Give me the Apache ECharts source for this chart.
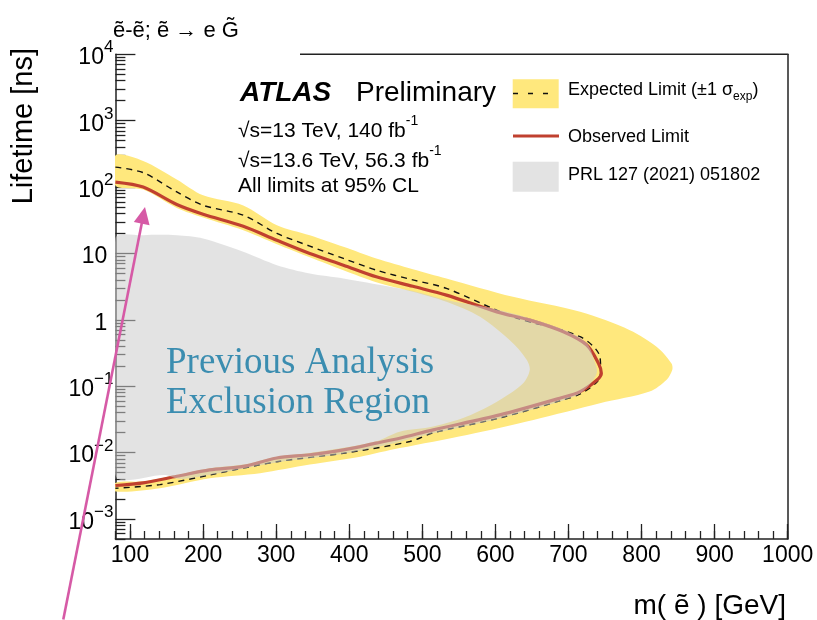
<!DOCTYPE html>
<html>
<head>
<meta charset="utf-8">
<script src="https://cdn.jsdelivr.net/npm/echarts@6/dist/echarts.min.js"></script>
<style>
html, body { margin: 0; padding: 0; background: #fff; }
#chart { width: 817px; height: 620px; }
</style>
</head>
<body>
<div id="chart"></div>
<script>
// Selectron mass [GeV] vs lifetime [ns]; every contour is a closed path:
// upper branch left -> right, then lower branch right -> left.

// Expected limit +1 sigma contour (outer edge of the yellow band)
const bandOuter = [
  [80, 300], [118, 247], [164, 130], [200, 75], [255, 53], [301, 26.7], [346, 18.8],
  [392, 12.6], [437, 8.4], [487, 5.8], [533, 4.2], [624, 2.22], [716, 1.32], [784, 0.70],
  [821, 0.39], [841, 0.22], [842, 0.176], [834, 0.124], [811, 0.083], [743, 0.0555],
  [652, 0.0311], [561, 0.0185], [469, 0.0117], [415, 0.0087], [346, 0.0066], [278, 0.0049],
  [209, 0.0041], [141, 0.0029], [80, 0.0026]
];

// Expected limit -1 sigma contour (inner edge of the yellow band)
const bandInner = [
  [80, 106], [118, 91.7], [164, 48.5], [200, 34.8], [255, 22.4], [301, 13.8], [346, 8.8],
  [392, 5.6], [437, 3.7], [487, 2.65], [533, 1.87], [579, 1.11], [624, 0.444], [643, 0.248],
  [647, 0.176], [638, 0.111], [606, 0.0622], [561, 0.0349], [515, 0.0247], [469, 0.0207],
  [438, 0.0150], [392, 0.0118], [346, 0.0099], [301, 0.0087], [255, 0.0066], [209, 0.0058],
  [164, 0.0046], [118, 0.0037], [80, 0.0035]
];

// Expected limit (dashed)
const expectedLimit = [
  [80, 200], [118, 165], [164, 84.4], [200, 53.2], [255, 37.7], [301, 20.0], [346, 12.9],
  [392, 8.41], [437, 5.61], [487, 4.0], [533, 2.98], [624, 1.11], [716, 0.557], [743, 0.279],
  [744, 0.164], [739, 0.116], [716, 0.0765], [688, 0.0601], [606, 0.0333], [515, 0.0199],
  [483, 0.0147], [392, 0.0098], [301, 0.0073], [209, 0.0046], [141, 0.0033], [80, 0.0029]
];

// Observed limit (solid red)
const observedLimit = [
  [80, 119], [118, 100], [164, 54.6], [200, 39.0], [255, 25.7], [301, 15.8], [346, 10.0],
  [392, 6.67], [437, 4.45], [487, 3.2], [533, 2.36], [602, 1.32], [647, 0.99], [693, 0.662],
  [725, 0.418], [741, 0.222], [745, 0.157], [739, 0.124], [716, 0.083], [688, 0.066],
  [606, 0.037], [515, 0.022], [469, 0.0165], [437, 0.0139], [392, 0.0110], [346, 0.0093],
  [301, 0.0083], [255, 0.0062], [209, 0.0055], [164, 0.0044], [118, 0.0035], [80, 0.0032]
];

// Previously excluded region, PRL 127 (2021) 051802
const prlRegion = [
  [80, 16.8], [118, 18.8], [164, 18.8], [200, 16.8], [255, 10.6], [301, 6.67], [346, 5.0],
  [392, 4.21], [456, 3.15], [487, 2.71], [533, 1.99], [579, 1.61], [606, 1.40], [647, 1.06],
  [693, 0.714], [725, 0.448], [736, 0.232], [739, 0.164], [733, 0.120], [716, 0.078],
  [688, 0.059], [606, 0.0328], [515, 0.0195], [469, 0.0145], [392, 0.0096], [301, 0.0071],
  [209, 0.0046], [168, 0.0040], [148, 0.0046], [80, 0.0046]
];

// Annotation arrow: tail (below the frame) and head, in mass / lifetime units
const arrowTail = [8.7, 3.06e-5];
const arrowHead = [120.5, 50.2];

// Axis ticks
const xMajorTicks = [100, 200, 300, 400, 500, 600, 700, 800, 900, 1000];
const xMinorTicks = [];
for (let m = 80; m <= 1000; m += 20) xMinorTicks.push(m);
const yMajorTicks = [1e-3, 1e-2, 1e-1, 1, 10, 100, 1e3, 1e4];
const yMinorTicks = [];
for (let k = -4; k <= 3; k++) {
  for (let j = 2; j <= 9; j++) {
    const v = j * Math.pow(10, k);
    if (v >= 5e-4 && v <= 1e4) yMinorTicks.push(v);
  }
}

const FONT = 'Liberation Sans, Arial, Helvetica, sans-serif';
const YELLOW = '#ffe87d';
const RED = '#c0402f';
const PRL_FILL = 'rgba(203,203,203,0.54)';
const PINK = '#d65aa6';
const AXIS = '#222';

const chart = echarts.init(document.getElementById('chart'), null, { renderer: 'canvas' });

function logLabel(v) {
  const k = Math.round(Math.log10(v));
  if (k === 0) return '{p|1}';
  if (k === 1) return '{p|10}';
  return '{b|10}{sup|' + (k < 0 ? '\u2212' : '') + Math.abs(k) + '}';
}

function polygonSeries(name, points, fill, z) {
  return {
    name: name,
    type: 'custom',
    coordinateSystem: 'cartesian2d',
    xAxisIndex: 0, yAxisIndex: 0,
    clip: true,
    z: z,
    silent: true,
    data: points,
    renderItem: function (params, api) {
      if (params.dataIndex !== 0) return null;
      const pts = points.map(function (p) { return api.coord(p); });
      return { type: 'polygon', shape: { points: pts, smooth: 0.3 }, style: { fill: fill } };
    }
  };
}

const grid = { left: 115.4, right: 29.3, top: 54.3, bottom: 81 };
const supRich = {
  n: { fontSize: 21, fontFamily: FONT, fill: '#000', lineHeight: 28, verticalAlign: 'bottom' },
  sup: { fontSize: 14, fontFamily: FONT, fill: '#000', lineHeight: 14, verticalAlign: 'top' }
};

const option = {
  animation: false,
  backgroundColor: '#fff',
  grid: Object.assign({ containLabel: false, outerBoundsMode: 'none' }, grid),
  xAxis: [
    {
      type: 'value', min: 80, max: 1000, position: 'bottom',
      axisLine: { show: true, onZero: false, lineStyle: { color: AXIS, width: 1.5 } },
      axisTick: { show: true, inside: true, length: 8, customValues: xMinorTicks, lineStyle: { color: AXIS, width: 1.3 } },
      axisLabel: { show: true, customValues: xMajorTicks, margin: 5, fontSize: 23, color: '#000', fontFamily: FONT,
                   formatter: function (v) { return String(v); } },
      splitLine: { show: false }
    },
    {
      type: 'value', min: 80, max: 1000, position: 'bottom',
      axisLine: { show: false, onZero: false },
      axisTick: { show: true, inside: true, length: 15, customValues: xMajorTicks, lineStyle: { color: AXIS, width: 1.3 } },
      axisLabel: { show: false },
      splitLine: { show: false }
    }
  ],
  yAxis: [
    {
      type: 'log', logBase: 10, min: 5e-4, max: 1e4, position: 'left',
      axisLine: { show: true, onZero: false, lineStyle: { color: AXIS, width: 1.5 } },
      axisTick: { show: true, inside: true, length: 20, customValues: yMajorTicks, lineStyle: { color: AXIS, width: 1.3 } },
      axisLabel: {
        show: true, customValues: yMajorTicks, margin: 2, formatter: logLabel,
        rich: {
          b: { fontSize: 23, fontFamily: FONT, color: '#000', lineHeight: 30, verticalAlign: 'bottom' },
          p: { fontSize: 23, fontFamily: FONT, color: '#000', lineHeight: 30, verticalAlign: 'bottom', padding: [0, 6, 0, 0] },
          sup: { fontSize: 17, fontFamily: FONT, color: '#000', lineHeight: 14, verticalAlign: 'top' }
        }
      },
      splitLine: { show: false }
    },
    {
      type: 'log', logBase: 10, min: 5e-4, max: 1e4, position: 'left',
      axisLine: { show: false, onZero: false },
      axisTick: { show: true, inside: true, length: 10, customValues: yMinorTicks, lineStyle: { color: AXIS, width: 1.3 } },
      axisLabel: { show: false },
      splitLine: { show: false }
    },
    {
      type: 'log', logBase: 10, min: 5e-4, max: 1e4, position: 'right',
      axisLine: { show: true, onZero: false, lineStyle: { color: AXIS, width: 1.5 } },
      axisTick: { show: false },
      axisLabel: { show: false },
      splitLine: { show: false }
    }
  ],
  series: [
    polygonSeries('Expected Limit band', bandOuter.concat(bandInner.slice().reverse()), YELLOW, 1),
    {
      name: 'Expected Limit',
      type: 'line', xAxisIndex: 0, yAxisIndex: 0, z: 2, silent: true,
      data: expectedLimit, showSymbol: false, smooth: 0.3,
      lineStyle: { color: '#111', width: 1.4, type: [6, 5] }
    },
    {
      name: 'Observed Limit',
      type: 'line', xAxisIndex: 0, yAxisIndex: 0, z: 3, silent: true,
      data: observedLimit, showSymbol: false, smooth: 0.3,
      lineStyle: { color: RED, width: 3.2 }
    },
    polygonSeries('PRL 127 (2021) 051802', prlRegion, PRL_FILL, 4),
    {
      name: 'arrow',
      type: 'custom', coordinateSystem: 'cartesian2d', xAxisIndex: 0, yAxisIndex: 0,
      clip: false, z: 6, silent: true,
      encode: { x: [0, 2], y: [1, 3] },
      data: [[arrowTail[0], arrowTail[1], arrowHead[0], arrowHead[1]]],
      renderItem: function (params, api) {
        const a = api.coord([api.value(0), api.value(1)]);
        const b = api.coord([api.value(2), api.value(3)]);
        const dx = b[0] - a[0], dy = b[1] - a[1];
        const len = Math.sqrt(dx * dx + dy * dy);
        const ux = dx / len, uy = dy / len;
        const hl = 17, hw = 8;
        const base = [b[0] - ux * hl, b[1] - uy * hl];
        return {
          type: 'group',
          children: [
            { type: 'line', shape: { x1: a[0], y1: a[1], x2: base[0] + ux * 2, y2: base[1] + uy * 2 },
              style: { stroke: PINK, lineWidth: 2.6 } },
            { type: 'polygon',
              shape: { points: [b, [base[0] - uy * hw, base[1] + ux * hw], [base[0] + uy * hw, base[1] - ux * hw]] },
              style: { fill: PINK } }
          ]
        };
      }
    }
  ],
  graphic: [
    // top frame segment
    { type: 'line', z: 10, shape: { x1: 300, y1: 54.3, x2: 787.7, y2: 54.3 }, style: { stroke: AXIS, lineWidth: 1.5 } },
    // process label
    { type: 'text', z: 10, x: 113, y: 31, style: { text: '\u1EBD-\u1EBD; \u1EBD \u2192 e G\u0303', fontSize: 22, fontFamily: FONT, fill: '#000', verticalAlign: 'middle' } },
    // axis titles
    { type: 'text', z: 10, x: 24, y: 48, rotation: Math.PI / 2,
      style: { text: 'Lifetime [ns]', fontSize: 29, fontFamily: FONT, fill: '#000', align: 'right', verticalAlign: 'middle' } },
    { type: 'text', z: 10, x: 786, y: 606,
      style: { text: 'm( \u1EBD ) [GeV]', fontSize: 28, fontFamily: FONT, fill: '#000', align: 'right', verticalAlign: 'middle' } },
    // ATLAS label block
    { type: 'text', z: 10, x: 240, y: 93,
      style: { text: 'ATLAS', fontSize: 28, fontWeight: 'bold', fontStyle: 'italic', fontFamily: FONT, fill: '#000', verticalAlign: 'middle' } },
    { type: 'text', z: 10, x: 356, y: 93,
      style: { text: 'Preliminary', fontSize: 28, fontFamily: FONT, fill: '#000', verticalAlign: 'middle' } },
    { type: 'text', z: 10, x: 238, y: 128,
      style: { text: '{n|\u221As=13 TeV, 140 fb}{sup|-1}', verticalAlign: 'middle', rich: supRich } },
    { type: 'text', z: 10, x: 238, y: 158,
      style: { text: '{n|\u221As=13.6 TeV, 56.3 fb}{sup|-1}', verticalAlign: 'middle', rich: supRich } },
    { type: 'text', z: 10, x: 238, y: 186,
      style: { text: 'All limits at 95% CL', fontSize: 21, fontFamily: FONT, fill: '#000', verticalAlign: 'middle' } },
    // legend
    { type: 'rect', z: 10, shape: { x: 512.7, y: 79.3, width: 46, height: 29 }, style: { fill: YELLOW } },
    { type: 'line', z: 11, shape: { x1: 513, y1: 93.5, x2: 558, y2: 93.5 }, style: { stroke: '#111', lineWidth: 1.3, lineDash: [5, 10] } },
    { type: 'line', z: 11, shape: { x1: 513, y1: 136, x2: 559, y2: 136 }, style: { stroke: RED, lineWidth: 3.2 } },
    { type: 'rect', z: 10, shape: { x: 512.7, y: 161.7, width: 46, height: 30 }, style: { fill: PRL_FILL } },
    { type: 'text', z: 10, x: 568, y: 92,
      style: { text: '{n|Expected Limit (\u00B11 \u03C3}{sub|exp}{n|)}', verticalAlign: 'middle',
        rich: { n: { fontSize: 18, fontFamily: FONT, fill: '#000', lineHeight: 22, verticalAlign: 'top' },
                sub: { fontSize: 12, fontFamily: FONT, fill: '#000', lineHeight: 12, verticalAlign: 'bottom' } } } },
    { type: 'text', z: 10, x: 568, y: 137,
      style: { text: 'Observed Limit', fontSize: 18, fontFamily: FONT, fill: '#000', verticalAlign: 'middle' } },
    { type: 'text', z: 10, x: 568, y: 175.5,
      style: { text: 'PRL 127 (2021) 051802', fontSize: 18, fontFamily: FONT, fill: '#000', verticalAlign: 'middle' } },
    // previous analysis annotation
    { type: 'text', z: 10, x: 166, y: 363,
      style: { text: 'Previous Analysis', fontSize: 37, fontFamily: 'Liberation Serif, DejaVu Serif, serif', fill: '#3b8db0', verticalAlign: 'middle' } },
    { type: 'text', z: 10, x: 166, y: 403,
      style: { text: 'Exclusion Region', fontSize: 37, fontFamily: 'Liberation Serif, DejaVu Serif, serif', fill: '#3b8db0', verticalAlign: 'middle' } }
  ]
};

chart.setOption(option);
</script>
</body>
</html>
